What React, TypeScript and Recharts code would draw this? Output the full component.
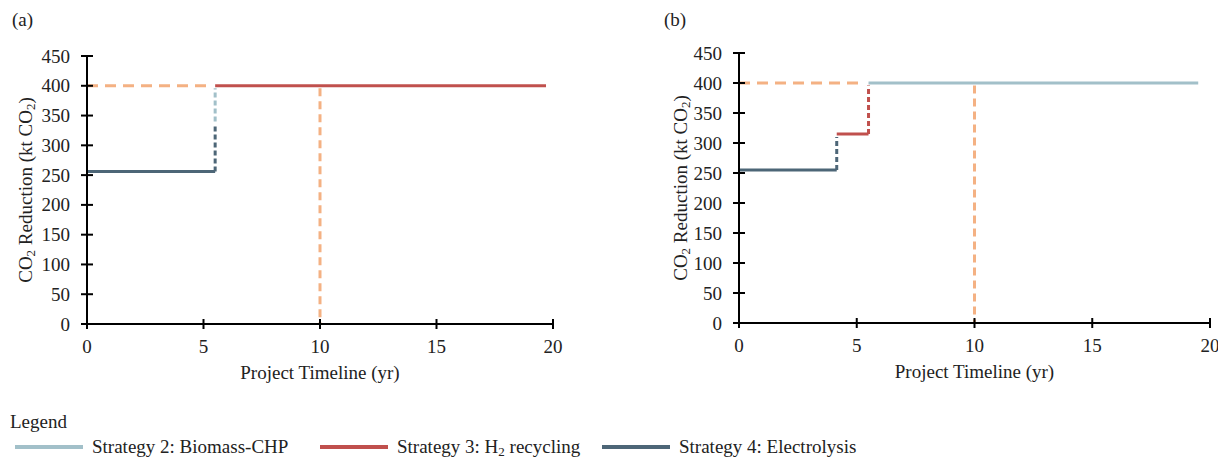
import { LineChart, Line, XAxis, YAxis, Label } from "recharts";

const FONT = "'Times New Roman', 'Liberation Serif', serif";
const TEXT = "#222";

const BIOMASS = "#a2c0c9";
const RECYCLING = "#c0504d";
const ELECTROLYSIS = "#4d6677";
const TARGET = "#f4b183";

const xTicks = [0, 5, 10, 15, 20];
const yTicks = [0, 50, 100, 150, 200, 250, 300, 350, 400, 450];

// (a) reduction pathway
const aTargetLevel = [{ x: 0, y: 400 }, { x: 5.4, y: 400 }];
const aTargetYear = [{ x: 10, y: 396 }, { x: 10, y: 0 }];
const aElectrolysis = [{ x: 0, y: 256 }, { x: 5.5, y: 256 }];
const aElectrolysisStep = [{ x: 5.5, y: 256 }, { x: 5.5, y: 333 }];
const aBiomassStep = [{ x: 5.5, y: 340 }, { x: 5.5, y: 396 }];
const aRecycling = [{ x: 5.5, y: 400 }, { x: 19.7, y: 400 }];

// (b) reduction pathway
const bTargetLevel = [{ x: 0, y: 400 }, { x: 5.3, y: 400 }];
const bTargetYear = [{ x: 10, y: 396 }, { x: 10, y: 0 }];
const bElectrolysis = [{ x: 0, y: 255 }, { x: 4.15, y: 255 }];
const bElectrolysisStep = [{ x: 4.15, y: 255 }, { x: 4.15, y: 310 }];
const bRecycling = [{ x: 4.15, y: 315 }, { x: 5.5, y: 315 }];
const bRecyclingStep = [{ x: 5.5, y: 315 }, { x: 5.5, y: 396 }];
const bBiomass = [{ x: 5.5, y: 400 }, { x: 19.5, y: 400 }];

const legendItems = [
  { name: "Strategy 2: Biomass-CHP", color: BIOMASS, left: 15 },
  { name: "Strategy 3: H|2| recycling", color: RECYCLING, left: 320 },
  { name: "Strategy 4: Electrolysis", color: ELECTROLYSIS, left: 602 },
];

type Seg = { x: number; y: number }[];
type Series = { data: Seg; color: string; dash?: string };

const XTick = (props: any) => {
  const { x, y, payload } = props;
  return (
    <g>
      <line x1={x} x2={x} y1={y - 5} y2={y + 5} stroke="#000" strokeWidth={2} />
      <text x={x} y={y + 29} textAnchor="middle" fontSize={19} fill={TEXT} fontFamily={FONT}>
        {payload.value}
      </text>
    </g>
  );
};

const YTick = (props: any) => {
  const { x, y, payload } = props;
  return (
    <g>
      <line x1={x - 6} x2={x + 6} y1={y} y2={y} stroke="#000" strokeWidth={2} />
      <text x={x - 17} y={y + 6.5} textAnchor="end" fontSize={19} fill={TEXT} fontFamily={FONT}>
        {payload.value}
      </text>
    </g>
  );
};

const Panel = ({
  tag,
  series,
  top,
  plotW,
  plotH,
  titleOffset,
}: {
  tag: string;
  series: Series[];
  top: number;
  plotW: number;
  plotH: number;
  titleOffset: number;
}) => {
  const yAxisW = 87;
  const height = 400;
  return (
    <div style={{ position: "relative" }}>
      <div style={{ position: "absolute", left: 12, top: 9, fontSize: 19, fontFamily: FONT, color: TEXT }}>
        ({tag})
      </div>
      <LineChart
        width={yAxisW + plotW + 70}
        height={height}
        margin={{ top, right: 70, bottom: 0, left: 0 }}
        style={{ fontFamily: FONT }}
      >
        <XAxis
          type="number"
          dataKey="x"
          domain={[0, 20]}
          ticks={xTicks}
          height={height - top - plotH}
          tickSize={0}
          tickMargin={0}
          tickLine={false}
          tick={<XTick />}
          axisLine={{ stroke: "#000", strokeWidth: 2 }}
          allowDataOverflow
        >
          <Label
            content={(p: any) => {
              const vb = p.viewBox;
              return (
                <text x={vb.x + vb.width / 2} y={vb.y + 55} textAnchor="middle" fontSize={19} fill={TEXT} fontFamily={FONT}>
                  Project Timeline (yr)
                </text>
              );
            }}
          />
        </XAxis>
        <YAxis
          type="number"
          domain={[0, 450]}
          ticks={yTicks}
          width={yAxisW}
          tickSize={0}
          tickMargin={0}
          tickLine={false}
          tick={<YTick />}
          axisLine={{ stroke: "#000", strokeWidth: 2 }}
          allowDataOverflow
        >
          <Label
            content={(p: any) => {
              const vb = p.viewBox;
              const cx = vb.x + vb.width - titleOffset;
              const cy = vb.y + vb.height / 2;
              return (
                <text
                  x={cx}
                  y={cy}
                  transform={`rotate(-90, ${cx}, ${cy})`}
                  textAnchor="middle"
                  dominantBaseline="central"
                  fontSize={19}
                  fill={TEXT}
                  fontFamily={FONT}
                >
                  CO<tspan fontSize={13} dy={5}>2</tspan>
                  <tspan dy={-5}> Reduction (kt CO</tspan>
                  <tspan fontSize={13} dy={5}>2</tspan>
                  <tspan dy={-5}>)</tspan>
                </text>
              );
            }}
          />
        </YAxis>
        {series.map((s, i) => (
          <Line
            key={i}
            data={s.data}
            dataKey="y"
            type="linear"
            stroke={s.color}
            strokeWidth={3}
            strokeDasharray={s.dash}
            dot={false}
            activeDot={false}
            isAnimationActive={false}
          />
        ))}
      </LineChart>
    </div>
  );
};

const seriesA: Series[] = [
  { data: aTargetLevel, color: TARGET, dash: "11 7" },
  { data: aTargetYear, color: TARGET, dash: "8 5" },
  { data: aElectrolysis, color: ELECTROLYSIS },
  { data: aElectrolysisStep, color: ELECTROLYSIS, dash: "5 3" },
  { data: aBiomassStep, color: BIOMASS, dash: "5 3" },
  { data: aRecycling, color: RECYCLING },
];

const seriesB: Series[] = [
  { data: bTargetLevel, color: TARGET, dash: "11 7" },
  { data: bTargetYear, color: TARGET, dash: "8 5" },
  { data: bElectrolysis, color: ELECTROLYSIS },
  { data: bElectrolysisStep, color: ELECTROLYSIS, dash: "5 3" },
  { data: bRecycling, color: RECYCLING },
  { data: bRecyclingStep, color: RECYCLING, dash: "5 3" },
  { data: bBiomass, color: BIOMASS },
];

const LegendText = ({ name }: { name: string }) => {
  const parts = name.split("|");
  return (
    <span style={{ lineHeight: "20px" }}>
      {parts.map((p, i) =>
        i % 2 === 1 ? (
          <span key={i} style={{ fontSize: 13, position: "relative", top: 3, lineHeight: 0 }}>
            {p}
          </span>
        ) : (
          <span key={i}>{p}</span>
        )
      )}
    </span>
  );
};

export default function App() {
  return (
    <div
      style={{
        position: "absolute",
        left: 0,
        top: 0,
        width: 1218,
        height: 458,
        background: "#fff",
        overflow: "hidden",
        fontFamily: FONT,
        color: TEXT,
      }}
    >
      <div style={{ position: "absolute", left: 0, top: 0 }}>
        <Panel tag="a" series={seriesA} top={56} plotW={466} plotH={268} titleOffset={62} />
      </div>
      <div style={{ position: "absolute", left: 645, top: 0 }}>
        <div style={{ position: "absolute", left: 7, top: 0 }}>
          <Panel tag="b" series={seriesB} top={53} plotW={471} plotH={270} titleOffset={59} />
        </div>
      </div>
      <div style={{ position: "absolute", left: 10, top: 412, fontSize: 19, lineHeight: "20px" }}>Legend</div>
      {legendItems.map((item) => (
        <div
          key={item.name}
          style={{
            position: "absolute",
            left: item.left,
            top: 437,
            height: 20,
            display: "flex",
            alignItems: "center",
            fontSize: 19,
            lineHeight: "20px",
            whiteSpace: "nowrap",
          }}
        >
          <div style={{ width: 68, height: 4, background: item.color, marginRight: 9 }} />
          <LegendText name={item.name} />
        </div>
      ))}
    </div>
  );
}
